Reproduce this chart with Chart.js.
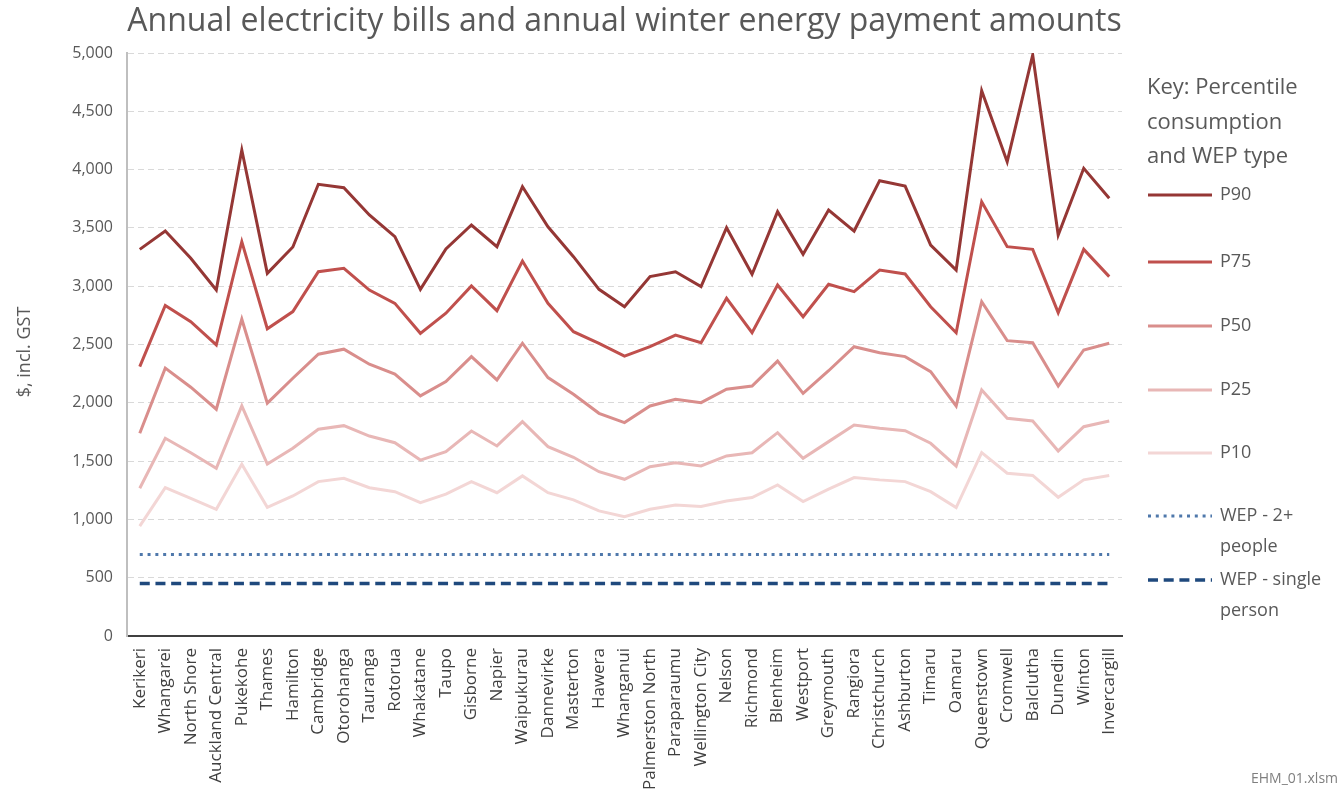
<!DOCTYPE html>
<html>
<head>
<meta charset="utf-8">
<title>Annual electricity bills and WEP</title>
<script src="https://cdn.jsdelivr.net/npm/chart.js@4/dist/chart.umd.min.js"></script>
<style>
  html, body { margin: 0; padding: 0; background: #fff; }
</style>
</head>
<body>
<canvas id="graphique" width="1339" height="803"></canvas>
<script>
// towns along the x axis
const villes = ["Kerikeri", "Whangarei", "North Shore", "Auckland Central", "Pukekohe", "Thames", "Hamilton",
  "Cambridge", "Otorohanga", "Tauranga", "Rotorua", "Whakatane", "Taupo", "Gisborne", "Napier", "Waipukurau",
  "Dannevirke", "Masterton", "Hawera", "Whanganui", "Palmerston North", "Paraparaumu", "Wellington City",
  "Nelson", "Richmond", "Blenheim", "Westport", "Greymouth", "Rangiora", "Christchurch", "Ashburton", "Timaru",
  "Oamaru", "Queenstown", "Cromwell", "Balclutha", "Dunedin", "Winton", "Invercargill"];

// annual bills ($ incl. GST) by consumption percentile
const p90 = [3316, 3473, 3240, 2967, 4168, 3110, 3336, 3874, 3845, 3611, 3425, 2973, 3320, 3525, 3339, 3853,
  3510, 3253, 2973, 2824, 3082, 3124, 2996, 3502, 3102, 3639, 3274, 3653, 3473, 3905, 3859, 3353,
  3139, 4677, 4068, 4983, 3439, 4011, 3754];
const p75 = [2310, 2835, 2696, 2496, 3382, 2635, 2782, 3124, 3153, 2967, 2853, 2596, 2768, 3002, 2790, 3216,
  2853, 2610, 2510, 2401, 2481, 2581, 2515, 2896, 2601, 3010, 2738, 3016, 2953, 3139, 3105, 2824,
  2601, 3725, 3339, 3316, 2773, 3316, 3082];
const p50 = [1739, 2297, 2134, 1945, 2717, 1997, 2211, 2417, 2460, 2331, 2247, 2059, 2182, 2396, 2196, 2511,
  2216, 2073, 1910, 1830, 1973, 2030, 2001, 2116, 2144, 2358, 2081, 2275, 2481, 2430, 2396, 2267,
  1973, 2867, 2533, 2516, 2144, 2453, 2511];
const p25 = [1267, 1696, 1572, 1438, 1973, 1475, 1610, 1773, 1804, 1715, 1658, 1509, 1581, 1758, 1630, 1838,
  1624, 1533, 1409, 1344, 1452, 1486, 1458, 1544, 1572, 1744, 1524, 1667, 1810, 1781, 1761, 1653,
  1458, 2110, 1867, 1844, 1587, 1795, 1844];
const p10 = [943, 1272, 1181, 1087, 1473, 1104, 1201, 1324, 1353, 1272, 1238, 1144, 1216, 1324, 1229, 1373,
  1229, 1167, 1073, 1024, 1087, 1124, 1110, 1158, 1187, 1296, 1153, 1259, 1359, 1339, 1324, 1238,
  1101, 1572, 1396, 1377, 1190, 1339, 1377];

// winter energy payment amounts
const wepDeuxPlus = [700, 700, 700, 700, 700, 700, 700, 700, 700, 700, 700, 700, 700, 700, 700, 700, 700, 700, 700, 700,
  700, 700, 700, 700, 700, 700, 700, 700, 700, 700, 700, 700, 700, 700, 700, 700, 700, 700, 700];
const wepSeul = [450, 450, 450, 450, 450, 450, 450, 450, 450, 450, 450, 450, 450, 450, 450, 450, 450, 450, 450, 450,
  450, 450, 450, 450, 450, 450, 450, 450, 450, 450, 450, 450, 450, 450, 450, 450, 450, 450, 450];

// key texts
const titreCle = ["Key: Percentile", "consumption", "and WEP type"];
const yTicks = [0, 500, 1000, 1500, 2000, 2500, 3000, 3500, 4000, 4500, 5000];

const police = "'Open Sans', 'DejaVu Sans', sans-serif";
const gris = "#595959";

// where each key entry sits (y of the sample line), plus its text lines
const cle = [
  { y: 195, lignes: ["P90"] },
  { y: 262, lignes: ["P75"] },
  { y: 326, lignes: ["P50"] },
  { y: 390, lignes: ["P25"] },
  { y: 453, lignes: ["P10"] },
  { y: 516, lignes: ["WEP - 2+", "people"] },
  { y: 580, lignes: ["WEP - single", "person"] },
];

const pluginCle = {
  id: "cle",
  afterDraw(chart) {
    const ctx = chart.ctx;
    ctx.save();
    ctx.fillStyle = gris;
    ctx.textBaseline = "middle";
    ctx.textAlign = "left";
    ctx.font = "22px " + police;
    for (let i = 0; i < titreCle.length; i++) {
      ctx.fillText(titreCle[i], 1147, 88 + i * 34.5);
    }
    const sets = chart.data.datasets;
    for (let i = 0; i < sets.length; i++) {
      const ds = sets[i];
      const c = cle[i];
      ctx.save();
      ctx.strokeStyle = ds.borderColor;
      ctx.lineWidth = ds.borderWidth;
      ctx.setLineDash(ds.borderDash || []);
      ctx.beginPath();
      ctx.moveTo(1148, c.y);
      ctx.lineTo(1212, c.y);
      ctx.stroke();
      ctx.restore();
      ctx.font = "18px " + police;
      for (let j = 0; j < c.lignes.length; j++) {
        ctx.fillText(c.lignes[j], 1220, c.y + j * 31);
      }
    }
    // y axis title, drawn by hand so it sits where the original does
    ctx.save();
    ctx.translate(25, 352);
    ctx.rotate(-Math.PI / 2);
    ctx.textAlign = "center";
    ctx.font = "18px " + police;
    ctx.fillText("$, incl. GST", 0, 0);
    ctx.restore();
    // file name, bottom right
    ctx.fillStyle = "#7f7f7f";
    ctx.font = "14px " + police;
    ctx.fillText("EHM_01.xlsm", 1251, 779);
    ctx.restore();
  }
};

function serie(label, data, couleur, largeur, tirets) {
  return {
    label: label,
    data: data,
    borderColor: couleur,
    backgroundColor: couleur,
    borderWidth: largeur,
    borderDash: tirets,
    pointRadius: 0,
    pointHoverRadius: 0,
    tension: 0,
    fill: false
  };
}

const config = {
  type: "line",
  data: {
    labels: villes,
    datasets: [
      serie("P90", p90, "#953735", 3, []),
      serie("P75", p75, "#c0504d", 3, []),
      serie("P50", p50, "#d98e8c", 3, []),
      serie("P25", p25, "#e8b7b6", 3, []),
      serie("P10", p10, "#f3d6d5", 3, []),
      serie("WEP - 2+ people", wepDeuxPlus, "#4f78ab", 3, [3, 4.8]),
      serie("WEP - single person", wepSeul, "#1f497d", 3.5, [10, 5.7]),
    ]
  },
  options: {
    responsive: false,
    animation: false,
    devicePixelRatio: 1,
    layout: { padding: { left: 0, right: 217, top: 0, bottom: 0 } },
    plugins: {
      legend: { display: false },
      tooltip: { enabled: false },
      title: {
        display: true,
        fullSize: false,
        text: "Annual electricity bills and annual winter energy payment amounts",
        color: gris,
        font: { family: police, size: 32, weight: "normal", lineHeight: 1.2 },
        padding: { top: 3, bottom: 11.6 }
      }
    },
    scales: {
      x: {
        offset: true,
        grid: { display: false, drawTicks: false },
        border: { display: true, color: "#404040", width: 2 },
        ticks: {
          autoSkip: false,
          maxRotation: 90,
          minRotation: 90,
          padding: 12,
          color: "#404040",
          font: { family: police, size: 17 }
        },
        afterFit(scale) { scale.height = 167; }
      },
      y: {
        min: 0,
        max: 5000,
        afterBuildTicks(scale) { scale.ticks = yTicks.map(v => ({ value: v })); },
        grid: { color: "#d9d9d9", lineWidth: 1, drawTicks: false },
        border: { display: true, color: "#bfbfbf", width: 2, dash: [6, 4] },
        ticks: {
          padding: 14,
          color: gris,
          font: { family: police, size: 16 },
          callback: v => v.toLocaleString("en-US")
        },
        afterFit(scale) { scale.width = 127; }
      }
    }
  },
  plugins: [pluginCle]
};

new Chart(document.querySelector("#graphique"), config);
</script>
</body>
</html>
